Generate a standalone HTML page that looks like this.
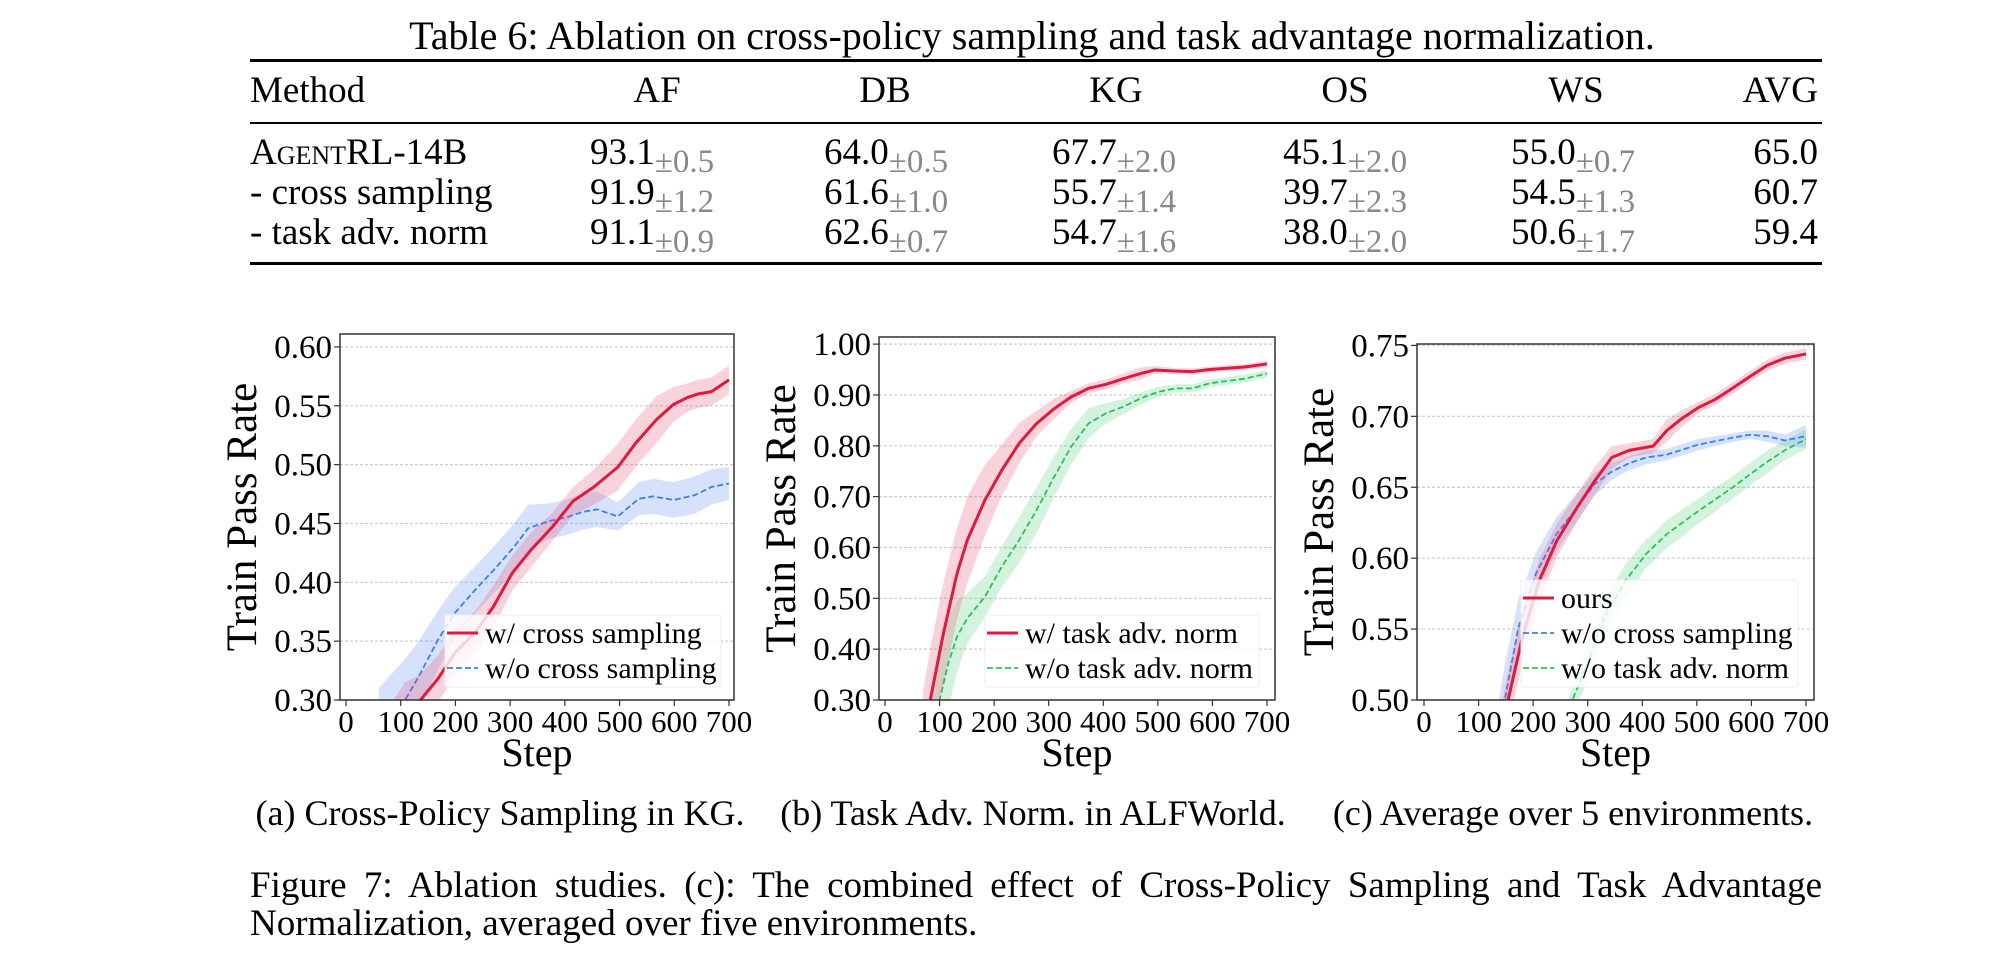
<!DOCTYPE html>
<html><head><meta charset="utf-8"><style>
body{margin:0;width:2012px;height:962px;background:#fff;overflow:hidden;position:relative;font-family:"Liberation Serif",serif;color:#000}
.t{position:absolute;white-space:nowrap}
.rule{position:absolute;left:250px;width:1572px;background:#000}
.pm{color:#888;font-size:33px;position:relative;top:8px}
.sc{font-variant:small-caps}
</style></head><body>
<div class="t" style="left:26px;width:2012px;text-align:center;top:12px;font-size:40px">Table 6: Ablation on cross-policy sampling and task advantage normalization.</div>
<div class="rule" style="top:59px;height:3px"></div>
<div class="rule" style="top:122px;height:2px"></div>
<div class="rule" style="top:262px;height:3px"></div>
<div id="tbl"></div>
<svg id="fig" width="2012" height="962" style="position:absolute;left:0;top:0"></svg>
<div class="t" style="left:200px;width:600px;text-align:center;top:792px;font-size:36px">(a) Cross-Policy Sampling in KG.</div>
<div class="t" style="left:733px;width:600px;text-align:center;top:792px;font-size:36px">(b) Task Adv. Norm. in ALFWorld.</div>
<div class="t" style="left:1273px;width:600px;text-align:center;top:792px;font-size:36px">(c) Average over 5 environments.</div>
<div class="t" style="left:250px;width:1572px;top:864px;font-size:37px;text-align:justify;text-align-last:justify">Figure 7: Ablation studies. (c): The combined effect of Cross-Policy Sampling and Task Advantage</div>
<div class="t" style="left:250px;top:902px;font-size:37px">Normalization, averaged over five environments.</div>
<script>
// ---- table data ----
const tblCols=["AF","DB","KG","OS","WS"];
const tblMethods=["AgentRL-14B","- cross sampling","- task adv. norm"];
const tblMeans=[["93.1","64.0","67.7","45.1","55.0"],["91.9","61.6","55.7","39.7","54.5"],["91.1","62.6","54.7","38.0","50.6"]];
const tblStds=[["0.5","0.5","2.0","2.0","0.7"],["1.2","1.0","1.4","2.3","1.3"],["0.9","0.7","1.6","2.0","1.7"]];
const tblAvg=["65.0","60.7","59.4"];

// ---- chart (a) ----
const aSteps=[80,108,136,168,199,237,269,304,339,377,415,453,497,529,567,598,624,643,668,700];
const aRed=[0.27,0.29,0.30,0.318,0.340,0.358,0.379,0.408,0.428,0.447,0.469,0.481,0.498,0.518,0.538,0.551,0.557,0.560,0.562,0.572];
const aRedStd=[0.025,0.025,0.022,0.02,0.02,0.018,0.018,0.015,0.015,0.012,0.012,0.015,0.02,0.02,0.02,0.015,0.012,0.012,0.012,0.012];
const aBlueSteps=[60,108,133,168,199,237,275,307,333,371,402,434,459,497,535,561,599,637,668,700];
const aBlue=[0.27,0.30,0.320,0.351,0.374,0.394,0.413,0.430,0.446,0.452,0.455,0.460,0.462,0.456,0.471,0.473,0.470,0.474,0.481,0.484];
const aBlueStd=[0.04,0.035,0.03,0.025,0.022,0.02,0.02,0.02,0.02,0.015,0.015,0.015,0.015,0.012,0.014,0.015,0.015,0.016,0.015,0.014];
// ---- chart (b) ----
const bSteps=[70,83,107,132,151,183,214,246,278,310,341,373,405,437,468,494,532,564,595,659,700];
const bRed=[0.22,0.30,0.431,0.549,0.615,0.693,0.752,0.805,0.844,0.873,0.896,0.913,0.921,0.932,0.942,0.949,0.947,0.946,0.950,0.955,0.961];
const bRedStd=[0.1,0.1,0.1,0.09,0.085,0.07,0.05,0.04,0.025,0.02,0.012,0.01,0.01,0.01,0.012,0.008,0.006,0.006,0.006,0.006,0.006];
const bGreenSteps=[85,100,116,132,151,183,214,246,278,310,341,373,405,437,468,500,532,564,595,659,700];
const bGreen=[0.21,0.30,0.372,0.425,0.461,0.503,0.562,0.615,0.674,0.739,0.798,0.844,0.864,0.877,0.893,0.906,0.913,0.913,0.923,0.932,0.942];
const bGreenStd=[0.1,0.1,0.09,0.07,0.05,0.04,0.04,0.045,0.045,0.04,0.035,0.03,0.02,0.015,0.012,0.01,0.008,0.008,0.008,0.008,0.007];
// ---- chart (c) ----
const cSteps=[140,154,179,211,243,281,312,344,376,420,445,471,502,534,566,597,629,661,700];
const cRed=[0.47,0.50,0.542,0.584,0.612,0.636,0.654,0.671,0.676,0.679,0.690,0.698,0.706,0.712,0.720,0.728,0.736,0.741,0.744];
const cRedStd=[0.02,0.02,0.018,0.015,0.012,0.01,0.01,0.008,0.005,0.005,0.008,0.006,0.004,0.004,0.004,0.004,0.004,0.004,0.004];
const cBlueSteps=[135,148,173,205,243,281,312,344,376,407,445,502,566,597,629,661,700];
const cBlue=[0.47,0.50,0.551,0.589,0.617,0.636,0.652,0.661,0.667,0.671,0.673,0.680,0.685,0.687,0.686,0.683,0.686];
const cBlueStd=[0.025,0.025,0.02,0.015,0.012,0.01,0.008,0.006,0.005,0.005,0.004,0.004,0.003,0.003,0.004,0.004,0.008];
const cGreenSteps=[255,272,300,331,369,407,445,502,566,597,629,661,700];
const cGreen=[0.47,0.50,0.526,0.559,0.584,0.603,0.617,0.633,0.650,0.659,0.668,0.676,0.684];
const cGreenStd=[0.012,0.012,0.012,0.012,0.012,0.01,0.01,0.009,0.008,0.008,0.008,0.007,0.007];

const xTicks=[0,100,200,300,400,500,600,700];
const aYTicks=[0.30,0.35,0.40,0.45,0.50,0.55,0.60];
const bYTicks=[0.30,0.40,0.50,0.60,0.70,0.80,0.90,1.00];
const cYTicks=[0.50,0.55,0.60,0.65,0.70,0.75];

// table build
const tbl=document.getElementById('tbl');
const colX=[590,824,1052,1283,1511];
const headX=[657,885,1116,1345,1576];
function mk(tag,name,inter){const e=document.createElement(tag);e.className='t';


tbl.appendChild(e);return e;}
const FS='font-size:37px';
let h=mk('div','header-method','false');h.textContent='Method';h.style.cssText='left:250px;top:69px;'+FS;
tblCols.forEach((c,i)=>{const e=mk('div','header-'+c.toLowerCase(),'false');e.textContent=c;e.style.cssText='left:'+(headX[i]-60)+'px;width:120px;text-align:center;top:69px;'+FS;});
h=mk('div','header-avg','false');h.textContent='AVG';h.style.cssText='left:1715px;width:103px;text-align:right;top:69px;'+FS;
tblMethods.forEach((m,r)=>{const y=131+r*40;
 const e=mk('div','row-method-'+r,'false');e.style.cssText='left:250px;top:'+y+'px;'+FS;
 if(r===0){e.innerHTML='A<span class="sc">gent</span>RL-14B';}else e.textContent=m;
 tblCols.forEach((c,i)=>{const d=mk('div','cell-'+r+'-'+c.toLowerCase(),'false');d.style.cssText='left:'+colX[i]+'px;top:'+y+'px;'+FS;
  d.innerHTML=tblMeans[r][i]+'<span class="pm">±'+tblStds[r][i]+'</span>';});
 const a=mk('div','cell-'+r+'-avg','false');a.textContent=tblAvg[r];a.style.cssText='left:1715px;width:103px;text-align:right;top:'+y+'px;'+FS;
});

// charts
const NS='http://www.w3.org/2000/svg';
const svg=document.getElementById('fig');
function el(tag,attrs,parent){const e=document.createElementNS(NS,tag);for(const k in attrs)e.setAttribute(k,attrs[k]);(parent||svg).appendChild(e);return e;}
function chart(id,box,x0px,x700px,ymin,ymax,yTicks,series,legend){
 const g=el('g',{});
 
 
 const sx=s=>x0px+(x700px-x0px)*s/700;
 const sy=v=>box.b-(box.b-box.t)*(v-ymin)/(ymax-ymin);
 const cp=el('clipPath',{id:'clip'+id},g);el('rect',{x:box.l,y:box.t,width:box.r-box.l,height:box.b-box.t},cp);
 yTicks.forEach(v=>{const y=sy(v);
  const gl=el('line',{x1:box.l,x2:box.r,y1:y,y2:y,stroke:'#ccc','stroke-width':1.2,'stroke-dasharray':'3 2'},g);
  
  
  el('line',{x1:box.l-6,x2:box.l,y1:y,y2:y,stroke:'#333','stroke-width':1.2},g);
  const t=el('text',{x:box.l-8,y:y+11,'text-anchor':'end','font-size':33,'font-family':'Liberation Serif, serif'},g);t.textContent=v.toFixed(2);
  
  });
 xTicks.forEach(s=>{const x=sx(s);
  el('line',{x1:x,x2:x,y1:box.b,y2:box.b+6,stroke:'#333','stroke-width':1.2},g);
  const t=el('text',{x:x,y:box.b+32,'text-anchor':'middle','font-size':31,'font-family':'Liberation Serif, serif'},g);t.textContent=s;
  
  });
 const pg=el('g',{'clip-path':'url(#clip'+id+')'},g);
 series.forEach(se=>{
  let up=se.steps.map((s,i)=>sx(s)+','+sy(se.mean[i]+se.std[i]));
  let dn=se.steps.map((s,i)=>sx(s)+','+sy(se.mean[i]-se.std[i])).reverse();
  const b=el('polygon',{points:up.concat(dn).join(' '),fill:se.band,stroke:'none'},pg);
  
  
  const l=el('polyline',{points:se.steps.map((s,i)=>sx(s)+','+sy(se.mean[i])).join(' '),fill:'none',stroke:se.color,'stroke-width':se.w,'stroke-dasharray':se.dash||'none','stroke-linejoin':'round'},pg);
  
  
 });
 el('rect',{x:box.l,y:box.t,width:box.r-box.l,height:box.b-box.t,fill:'none',stroke:'#333','stroke-width':1.5},g);
 const yt=el('text',{transform:'translate('+(box.l-84)+','+((box.t+box.b)/2)+') rotate(-90)','text-anchor':'middle','font-size':43,'font-family':'Liberation Serif, serif'},g);yt.textContent='Train Pass Rate';
 
 
 const xt=el('text',{x:(box.l+box.r)/2,y:box.b+66,'text-anchor':'middle','font-size':40,'font-family':'Liberation Serif, serif'},g);xt.textContent='Step';
 
 
 // legend
 const lg=el('g',{},g);
 
 
 el('rect',{x:legend.x,y:legend.y,width:legend.w,height:legend.items.length*35+2,fill:'rgba(255,255,255,0.8)',stroke:'#eee','stroke-width':1,rx:2},lg);
 legend.items.forEach((it,i)=>{const y=legend.y+18+i*35;
  const ln=el('line',{x1:legend.x+2,x2:legend.x+33,y1:y,y2:y,stroke:it.color,'stroke-width':it.w,'stroke-dasharray':it.dash||'none'},lg);
  
  
  const t=el('text',{x:legend.x+40,y:y+10,'font-size':30,'font-family':'Liberation Serif, serif'},lg);t.textContent=it.label;
  
  });
}
const RED='#e0193f',BLUE='#3b7ff0',GREEN='#27c25a';
const RB='rgba(232,80,110,0.25)',BB='rgba(90,140,240,0.25)',GB='rgba(60,200,110,0.22)';
chart('a',{l:340,r:734,t:334,b:700},346,729,0.30,0.611,aYTicks,[
 {name:'without-cross-sampling',steps:aBlueSteps,mean:aBlue,std:aBlueStd,color:BLUE,band:BB,w:1.8,dash:'6 3'},
 {name:'with-cross-sampling',steps:aSteps,mean:aRed,std:aRedStd,color:RED,band:RB,w:3}
],{x:445,y:615,w:276,items:[{label:'w/ cross sampling',color:RED,w:3},{label:'w/o cross sampling',color:BLUE,w:1.8,dash:'6 3'}]});
chart('b',{l:879,r:1275,t:337,b:700},885,1267,0.30,1.014,bYTicks,[
 {name:'without-task-adv-norm',steps:bGreenSteps,mean:bGreen,std:bGreenStd,color:GREEN,band:GB,w:1.8,dash:'6 3'},
 {name:'with-task-adv-norm',steps:bSteps,mean:bRed,std:bRedStd,color:RED,band:RB,w:3}
],{x:985,y:615,w:274,items:[{label:'w/ task adv. norm',color:RED,w:3},{label:'w/o task adv. norm',color:GREEN,w:1.8,dash:'6 3'}]});
chart('c',{l:1417,r:1814,t:344,b:700},1424,1806,0.50,0.751,cYTicks,[
 {name:'without-task-adv-norm',steps:cGreenSteps,mean:cGreen,std:cGreenStd,color:GREEN,band:GB,w:1.8,dash:'6 3'},
 {name:'without-cross-sampling',steps:cBlueSteps,mean:cBlue,std:cBlueStd,color:BLUE,band:BB,w:1.8,dash:'6 3'},
 {name:'ours',steps:cSteps,mean:cRed,std:cRedStd,color:RED,band:RB,w:3}
],{x:1521,y:580,w:277,items:[{label:'ours',color:RED,w:3},{label:'w/o cross sampling',color:BLUE,w:1.8,dash:'6 3'},{label:'w/o task adv. norm',color:GREEN,w:1.8,dash:'6 3'}]});
</script>
</body></html>
